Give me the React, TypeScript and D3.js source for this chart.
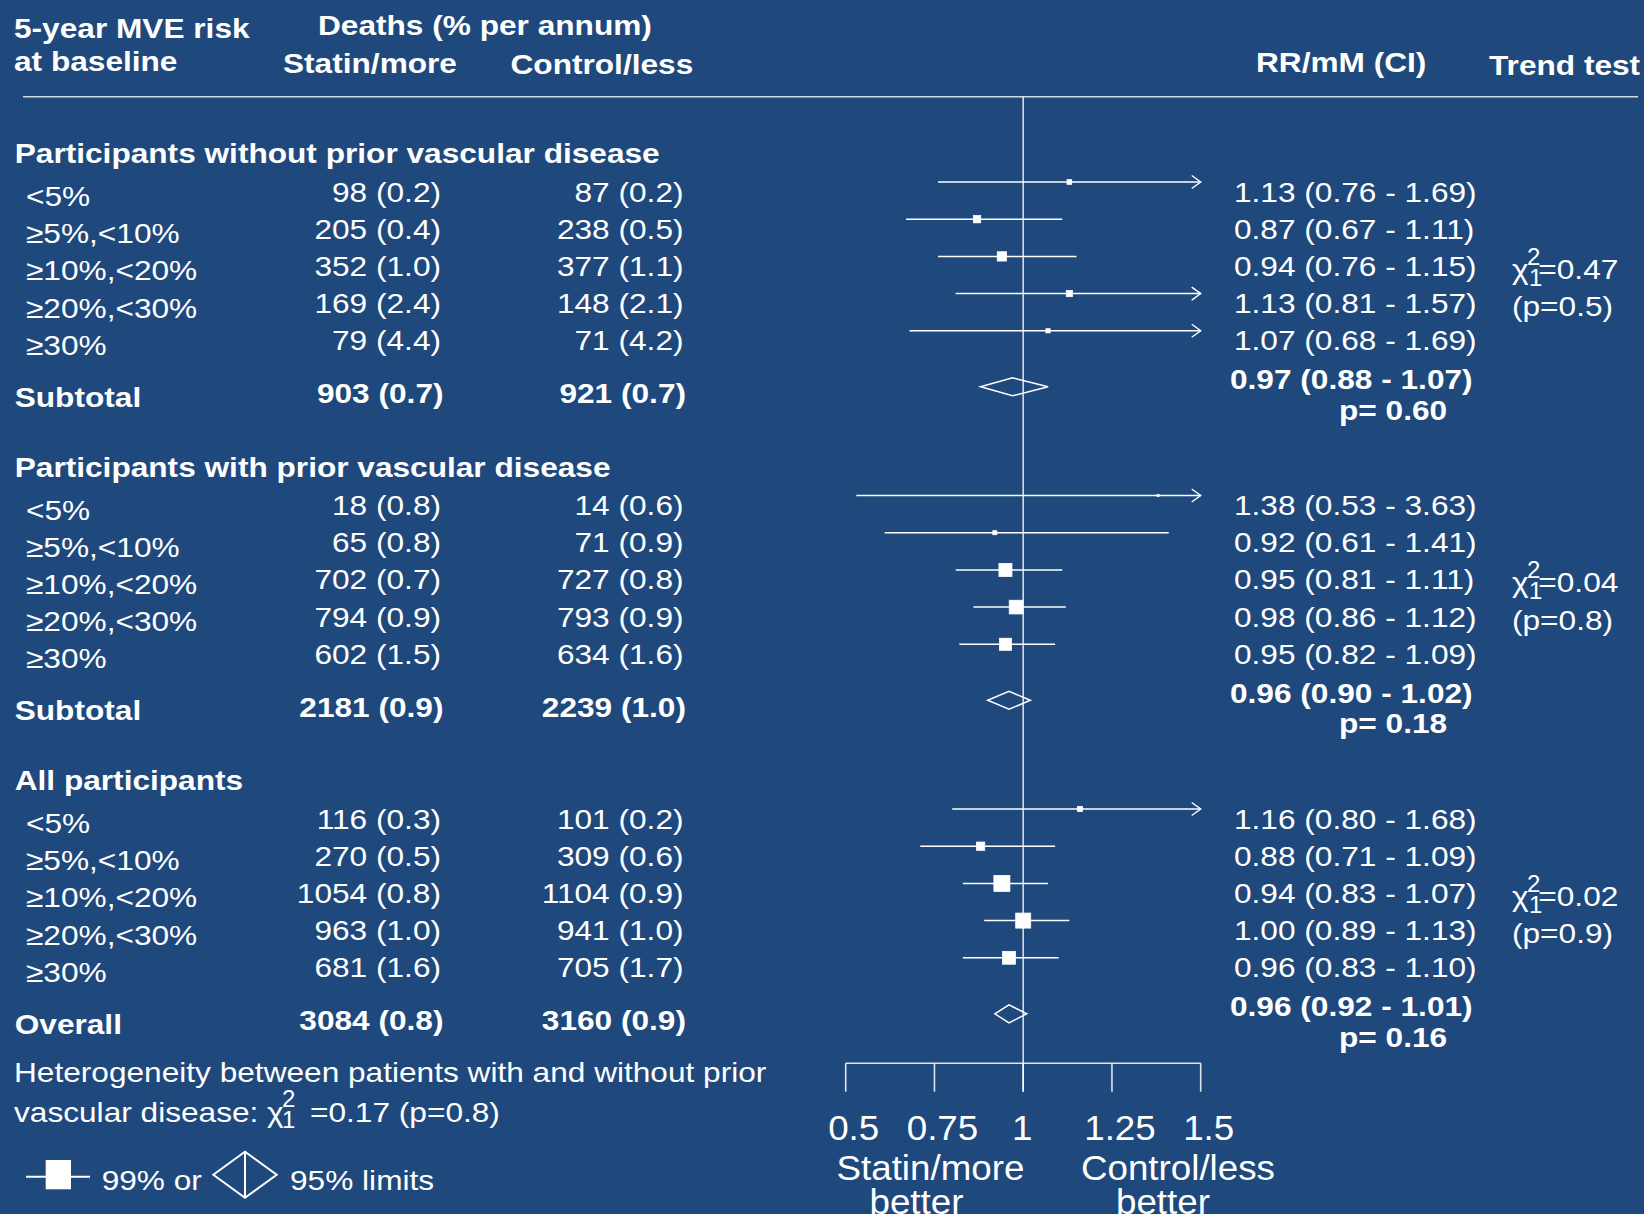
import React from "react";
import * as d3 from "d3";

// ---------- data ----------
const sectionTitles = [
  "Participants without prior vascular disease",
  "Participants with prior vascular disease",
  "All participants",
];
const riskGroups = ["<5%", "\u22655%,<10%", "\u226510%,<20%", "\u226520%,<30%", "\u226530%"];

const statinDeaths = [
  [98, 205, 352, 169, 79],
  [18, 65, 702, 794, 602],
  [116, 270, 1054, 963, 681],
];
const statinRate = [
  [0.2, 0.4, 1.0, 2.4, 4.4],
  [0.8, 0.8, 0.7, 0.9, 1.5],
  [0.3, 0.5, 0.8, 1.0, 1.6],
];
const controlDeaths = [
  [87, 238, 377, 148, 71],
  [14, 71, 727, 793, 634],
  [101, 309, 1104, 941, 705],
];
const controlRate = [
  [0.2, 0.5, 1.1, 2.1, 4.2],
  [0.6, 0.9, 0.8, 0.9, 1.6],
  [0.2, 0.6, 0.9, 1.0, 1.7],
];
const rr = [
  [1.13, 0.87, 0.94, 1.13, 1.07],
  [1.38, 0.92, 0.95, 0.98, 0.95],
  [1.16, 0.88, 0.94, 1.0, 0.96],
];
const rrLo = [
  [0.76, 0.67, 0.76, 0.81, 0.68],
  [0.53, 0.61, 0.81, 0.86, 0.82],
  [0.8, 0.71, 0.83, 0.89, 0.83],
];
const rrHi = [
  [1.69, 1.11, 1.15, 1.57, 1.69],
  [3.63, 1.41, 1.11, 1.12, 1.09],
  [1.68, 1.09, 1.07, 1.13, 1.1],
];

const subtotalLabels = ["Subtotal", "Subtotal", "Overall"];
const subStatinDeaths = [903, 2181, 3084];
const subStatinRate = [0.7, 0.9, 0.8];
const subControlDeaths = [921, 2239, 3160];
const subControlRate = [0.7, 1.0, 0.9];
const subRR = [0.97, 0.96, 0.96];
const subLo = [0.88, 0.9, 0.92];
const subHi = [1.07, 1.02, 1.01];
const subP = ["0.60", "0.18", "0.16"];

const trendChi = ["0.47", "0.04", "0.02"];
const trendP = ["0.5", "0.8", "0.9"];

const axisTicks = [0.5, 0.75, 1, 1.25, 1.5];
const axisTickLabels = ["0.5", "0.75", "1", "1.25", "1.5"];

// ---------- layout ----------
const W = 1644;
const H = 1214;
const BG = "#1F497D";
const FONT = "'Liberation Sans', Arial, Helvetica, sans-serif";
const FS = 28;
const SX = 1.13;

const SEC0 = 182;
const SEC_STEP = 313.5;
const ROW_STEP = 37.2;
const rowY = (s: number, i: number) => SEC0 + s * SEC_STEP + i * ROW_STEP;

const x = d3.scaleLinear().domain([0.5, 1.5]).range([845.7, 1200.7]);
const axisY = 1063.3;
const tickBottom = 1091.7;

const allWeights = statinDeaths.flatMap((r, s) => r.map((v, i) => v + controlDeaths[s][i]));
const boxSize = d3.scaleSqrt().domain([0, d3.max(allWeights) as number]).range([0, 16]);

const f1 = d3.format(".1f");
const f2 = d3.format(".2f");

function T({
  x,
  y,
  children,
  anchor = "start",
  bold = false,
  size = FS,
  sx = SX,
}: {
  x: number;
  y: number;
  children: React.ReactNode;
  anchor?: string;
  bold?: boolean;
  size?: number;
  sx?: number;
}) {
  return (
    <text
      transform={`translate(${x},${y}) scale(${sx},1)`}
      textAnchor={anchor as any}
      fontWeight={bold ? "bold" : "normal"}
      fontSize={size}
      fill="#ffffff"
      fontFamily={FONT}
    >
      {children}
    </text>
  );
}

function Chi({ x0, y, sub = "1", sup = "2" }: { x0: number; y: number; sub?: string; sup?: string }) {
  return (
    <g>
      <T x={x0} y={y}>{"\u03c7"}</T>
      <T x={x0 + 15} y={y - 14} size={24} sx={1}>{sup}</T>
      <T x={x0 + 17} y={y + 7} size={24} sx={1}>{sub}</T>
    </g>
  );
}

function Arrow({ xt, y }: { xt: number; y: number }) {
  return (
    <path
      d={`M${xt - 9},${y - 6.5}L${xt},${y}L${xt - 9},${y + 6.5}`}
      fill="none"
      stroke="#ffffff"
      strokeWidth={1.4}
    />
  );
}

export default function App() {
  const xMax = x.domain()[1];
  const xMin = x.domain()[0];

  return (
    <svg
      width={W}
      height={H}
      viewBox={`0 0 ${W} ${H}`}
      style={{ position: "absolute", left: 0, top: 0, display: "block", background: BG }}
    >
      <rect x={0} y={0} width={W} height={H} fill={BG} />

      {/* column headers */}
      <T x={14} y={38.3} bold>5-year MVE risk</T>
      <T x={14} y={70.7} bold>at baseline</T>
      <T x={318} y={35} bold>Deaths (% per annum)</T>
      <T x={283} y={73.3} bold>Statin/more</T>
      <T x={510.5} y={74} bold>Control/less</T>
      <T x={1256} y={72} bold>RR/mM (CI)</T>
      <T x={1489} y={75} bold>Trend test</T>

      <line x1={23} x2={1638} y1={96.7} y2={96.7} stroke="#ffffff" strokeOpacity={0.8} strokeWidth={1.6} />

      {/* reference line at 1 */}
      <line x1={x(1)} x2={x(1)} y1={96.7} y2={tickBottom} stroke="#ffffff" strokeOpacity={0.8} strokeWidth={1.6} />

      {sectionTitles.map((title, s) => {
        const y4 = rowY(s, 4);
        const yc = y4 + 56;
        const lo = subLo[s];
        const hi = subHi[s];
        return (
          <g key={title}>
            <T x={14.7} y={rowY(s, 0) - 19} bold>{title}</T>
            {riskGroups.map((g, i) => {
              const y = rowY(s, i);
              const lov = rrLo[s][i];
              const hiv = rrHi[s][i];
              const sz = Math.max(2, boxSize(statinDeaths[s][i] + controlDeaths[s][i]));
              const cx = x(rr[s][i]);
              return (
                <g key={g}>
                  <T x={26} y={y + 24}>{g}</T>
                  <T x={441} y={y + 19.5} anchor="end">{`${statinDeaths[s][i]} (${f1(statinRate[s][i])})`}</T>
                  <T x={683.5} y={y + 19.5} anchor="end">{`${controlDeaths[s][i]} (${f1(controlRate[s][i])})`}</T>
                  <T x={1234} y={y + 19.5}>{`${f2(rr[s][i])} (${f2(lov)} - ${f2(hiv)})`}</T>
                  <line
                    x1={x(Math.max(lov, xMin))}
                    x2={x(Math.min(hiv, xMax))}
                    y1={y}
                    y2={y}
                    stroke="#ffffff"
                    strokeWidth={1.5}
                  />
                  {hiv > xMax && <Arrow xt={x(xMax)} y={y} />}
                  <rect x={cx - sz / 2} y={y - sz / 2} width={sz} height={sz} fill="#ffffff" stroke="#ffffff" strokeWidth={0.8} />
                </g>
              );
            })}

            {/* trend test */}
            <Chi x0={1512} y={rowY(s, 2) + 22.5} />
            <T x={1538.3} y={rowY(s, 2) + 22.5}>{`=${trendChi[s]}`}</T>
            <T x={1512} y={rowY(s, 3) + 22.5}>{`(p=${trendP[s]})`}</T>

            {/* subtotal */}
            <T x={14.7} y={yc + 20} bold>{subtotalLabels[s]}</T>
            <T x={443.5} y={yc + 16.5} anchor="end" bold>{`${subStatinDeaths[s]} (${f1(subStatinRate[s])})`}</T>
            <T x={686} y={yc + 16.5} anchor="end" bold>{`${subControlDeaths[s]} (${f1(subControlRate[s])})`}</T>
            <T x={1230} y={yc + 2.5} bold>{`${f2(subRR[s])} (${f2(lo)} - ${f2(hi)})`}</T>
            <T x={1339} y={yc + 33} bold>{`p= ${subP[s]}`}</T>
            <polygon
              points={`${x(lo)},${yc} ${x(subRR[s])},${yc - 9} ${x(hi)},${yc} ${x(subRR[s])},${yc + 9}`}
              fill="none"
              stroke="#ffffff"
              strokeWidth={1.5}
            />
          </g>
        );
      })}

      {/* heterogeneity */}
      <T x={14} y={1081.7}>Heterogeneity between patients with and without prior</T>
      <T x={14} y={1121.7}>{"vascular disease: \u03c7"}</T>
      <T x={282} y={1106.7} size={24} sx={1}>2</T>
      <T x={282} y={1128.3} size={24} sx={1}>1</T>
      <T x={310} y={1121.7}>=0.17 (p=0.8)</T>

      {/* legend */}
      <line x1={26} x2={90} y1={1176.7} y2={1176.7} stroke="#ffffff" strokeWidth={2} />
      <rect x={45.7} y={1160} width={25.3} height={29.3} fill="#ffffff" />
      <T x={101.7} y={1190}>99% or</T>
      <polygon
        points="213.3,1174.7 245,1151.7 276.7,1174.7 245,1197.7"
        fill="none"
        stroke="#ffffff"
        strokeWidth={2}
      />
      <line x1={245} x2={245} y1={1151.7} y2={1197.7} stroke="#ffffff" strokeWidth={2} />
      <T x={290} y={1190}>95% limits</T>

      {/* axis */}
      <line x1={x(xMin)} x2={x(xMax)} y1={axisY} y2={axisY} stroke="#ffffff" strokeOpacity={0.85} strokeWidth={1.6} />
      {axisTicks.map((t, i) => (
        <g key={t}>
          <line x1={x(t)} x2={x(t)} y1={axisY} y2={tickBottom} stroke="#ffffff" strokeOpacity={0.85} strokeWidth={1.6} />
          <T x={x(t) + (t === 1 ? -1 : 8)} y={1140} anchor="middle" size={35} sx={1.05}>{axisTickLabels[i]}</T>
        </g>
      ))}
      <T x={x(0.75) - 4} y={1180} anchor="middle" size={35} sx={1.05}>Statin/more</T>
      <T x={x(0.75) - 18} y={1214} anchor="middle" size={35} sx={1.05}>better</T>
      <T x={x(1.25) + 66} y={1180} anchor="middle" size={35} sx={1.05}>Control/less</T>
      <T x={x(1.25) + 51} y={1214} anchor="middle" size={35} sx={1.05}>better</T>
    </svg>
  );
}
